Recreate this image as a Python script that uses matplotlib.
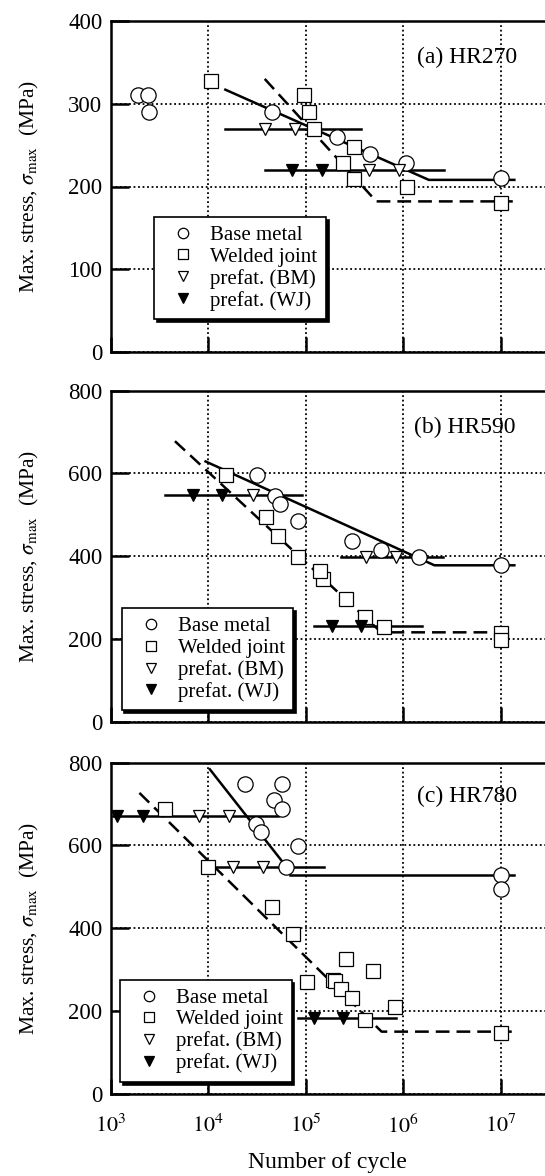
import numpy as np
import matplotlib.pyplot as plt
from matplotlib.lines import Line2D
from matplotlib.ticker import FixedLocator, NullLocator

plt.rcParams['font.family'] = ['Liberation Serif', 'DejaVu Serif']
plt.rcParams['mathtext.fontset'] = 'stix'

# ---- (a) HR270 ----
a_bm_n = [1.9e3, 2.4e3, 2.5e3, 4.5e4, 2.1e5, 4.6e5, 1.06e6, 1e7]
a_bm_s = [310, 310, 290, 290, 260, 239, 228, 210]
a_wj_n = [1.06e4, 9.5e4, 1.08e5, 1.23e5, 3.15e5, 2.4e5, 3.15e5, 1.1e6, 1e7]
a_wj_s = [328, 310, 290, 270, 248, 228, 209, 200, 180]
a_pbm_n = [3.8e4, 7.7e4, 4.5e5, 9.0e5]
a_pbm_s = [270, 270, 220, 220]
a_pwj_n = [7.3e4, 1.46e5]
a_pwj_s = [220, 220]
a_bm_fit_n = [1.5e4, 1.83e6, 1.38e7]
a_bm_fit_s = [317, 208, 208]
a_wj_fit_n = [3.8e4, 5.3e5, 1.33e7]
a_wj_fit_s = [330, 182, 182]
a_levels = [(1.5e4, 3.7e5, 270), (3.86e4, 2.6e6, 220)]

# ---- (b) HR590 ----
b_bm_n = [3.13e4, 4.8e4, 5.4e4, 8.4e4, 2.96e5, 5.9e5, 1.45e6, 1e7]
b_bm_s = [597, 545, 526, 486, 436, 416, 397, 378]
b_wj_n = [1.54e4, 3.95e4, 5.16e4, 8.4e4, 1.5e5, 1.39e5, 2.57e5, 4.05e5, 6.3e5, 1e7, 1e7]
b_wj_s = [597, 494, 449, 397, 346, 365, 296, 252, 230, 214, 197]
b_pbm_n = [2.85e4, 4.18e5, 8.5e5]
b_pbm_s = [547, 399, 399]
b_pwj_n = [7.0e3, 1.38e4, 1.88e5, 3.72e5]
b_pwj_s = [547, 547, 231, 231]
b_bm_fit_n = [9.4e3, 2.09e6, 1.38e7]
b_bm_fit_s = [629, 378, 378]
b_wj_fit_n = [4.56e3, 5.96e5, 1.33e7]
b_wj_fit_s = [678, 216, 216]
b_levels = [(3.57e3, 9.25e4, 547), (2.32e5, 2.55e6, 399), (1.21e5, 1.57e6, 231)]

# ---- (c) HR780 ----
c_bm_n = [2.41e4, 5.77e4, 4.74e4, 5.77e4, 3.08e4, 3.49e4, 8.28e4, 6.24e4, 1e7, 1e7]
c_bm_s = [748, 748, 710, 688, 651, 632, 598, 548, 528, 494]
c_wj_n = [3.63e3, 1e4, 4.49e4, 7.42e4, 1.02e5, 1.9e5, 2.0e5, 2.3e5, 2.96e5, 2.61e5,
          4.89e5, 8.15e5, 4.02e5, 1e7]
c_wj_s = [688, 548, 451, 386, 269, 276, 273, 253, 231, 326, 296, 210, 178, 147]
c_pbm_n = [8.1e3, 1.63e4, 1.8e4, 3.66e4]
c_pbm_s = [671, 671, 549, 549]
c_pwj_n = [1.17e3, 2.16e3, 1.21e5, 2.41e5]
c_pwj_s = [671, 671, 183, 183]
c_bm_fit_n = [1.04e4, 5.8e4]
c_bm_fit_s = [784, 560]
c_bm_flat_n = [6.9e4, 1.38e7]
c_bm_flat_s = [528, 528]
c_wj_fit_n = [1.97e3, 6.0e5, 1.3e7]
c_wj_fit_s = [727, 150, 150]
c_levels = [(1.06e3, 5.2e4, 671), (1.04e4, 1.53e5, 549), (8.35e4, 8.36e5, 183)]

labels = ['Base metal', 'Welded joint', 'prefat. (BM)', 'prefat. (WJ)']
titles = ['(a) HR270', '(b) HR590', '(c) HR780']
yticks = [[0, 100, 200, 300, 400], [0, 200, 400, 600, 800], [0, 200, 400, 600, 800]]
xticks = [1e3, 1e4, 1e5, 1e6, 1e7]
xticklabels = ['$10^3$', '$10^4$', '$10^5$', '$10^6$', '$10^7$']

fig = plt.figure(figsize=(5.45, 11.76), dpi=100)
W, H = 545, 1176
ax_left, ax_w = 110.7, 438.75
tops = [21, 390.7, 762.7]
ax_h = 331
leg_pos = [(0.099, 0.10), (0.025, 0.035), (0.021, 0.036)]
title_pos = [(0.698, 0.891), (0.692, 0.890), (0.698, 0.899)]

panels = [
    (a_bm_n, a_bm_s, a_wj_n, a_wj_s, a_pbm_n, a_pbm_s, a_pwj_n, a_pwj_s,
     [(a_bm_fit_n, a_bm_fit_s)], [(a_wj_fit_n, a_wj_fit_s)], a_levels),
    (b_bm_n, b_bm_s, b_wj_n, b_wj_s, b_pbm_n, b_pbm_s, b_pwj_n, b_pwj_s,
     [(b_bm_fit_n, b_bm_fit_s)], [(b_wj_fit_n, b_wj_fit_s)], b_levels),
    (c_bm_n, c_bm_s, c_wj_n, c_wj_s, c_pbm_n, c_pbm_s, c_pwj_n, c_pwj_s,
     [(c_bm_fit_n, c_bm_fit_s), (c_bm_flat_n, c_bm_flat_s)], [(c_wj_fit_n, c_wj_fit_s)], c_levels),
]

# legend handles (smaller markers than in the plot)
handles = [
    Line2D([], [], ls='none', marker='o', ms=7.5, mfc='white', mec='k', mew=0.9),
    Line2D([], [], ls='none', marker='s', ms=7, mfc='white', mec='k', mew=0.9),
    Line2D([], [], ls='none', marker='v', ms=7, mfc='white', mec='k', mew=0.9),
    Line2D([], [], ls='none', marker='v', ms=7, mfc='k', mec='k', mew=0.9),
]

for i, p in enumerate(panels):
    bm_n, bm_s, wj_n, wj_s, pbm_n, pbm_s, pwj_n, pwj_s, bm_fits, wj_fits, levels = p
    ax = fig.add_axes([ax_left / W, (H - tops[i] - ax_h) / H, ax_w / W, ax_h / H])
    ax.set_xscale('log')
    ax.set_xlim(1e3, 10 ** 7.5)
    ax.set_ylim(yticks[i][0], yticks[i][-1])

    for n, s in bm_fits:
        ax.plot(n, s, color='k', lw=1.8, zorder=3)
    for n, s in wj_fits:
        ax.plot(n, s, color='k', lw=1.8, ls=(0, (5.5, 2.8)), zorder=3)
    for n0, n1, s in levels:
        ax.plot([n0, n1], [s, s], color='k', lw=1.8, zorder=3)

    ax.plot(bm_n, bm_s, ls='none', marker='o', ms=11, mfc='white', mec='k', mew=0.9, zorder=4)
    ax.plot(wj_n, wj_s, ls='none', marker='s', ms=10.5, mfc='white', mec='k', mew=0.9, zorder=4)
    ax.plot(pbm_n, pbm_s, ls='none', marker='v', ms=8, mfc='white', mec='k', mew=0.9, zorder=5)
    ax.plot(pwj_n, pwj_s, ls='none', marker='v', ms=8, mfc='k', mec='k', mew=0.9, zorder=5)

    ax.xaxis.set_major_locator(FixedLocator(xticks))
    ax.xaxis.set_minor_locator(NullLocator())
    ax.yaxis.set_major_locator(FixedLocator(yticks[i]))
    if i == 2:
        ax.set_xticklabels(xticklabels)
    else:
        ax.set_xticklabels([])
    ax.tick_params(axis='x', direction='in', length=11, width=1.8, labelsize=16, pad=15,
                   top=False)
    ax.tick_params(axis='y', direction='in', length=13, width=1.8, labelsize=16.5, pad=6,
                   right=False)
    for sp in ax.spines.values():
        sp.set_linewidth(1.8)
    ax.grid(True, which='major', color='k', lw=1.3, ls=(0, (1, 1.5)))
    ax.set_axisbelow(True)

    ax.set_ylabel(r'Max. stress, $\sigma_{\rm max}$  (MPa)', fontsize=15.5)
    ax.yaxis.set_label_coords(-0.158, 0.5)

    ax.text(title_pos[i][0], title_pos[i][1], titles[i], transform=ax.transAxes,
            fontsize=17, va='center', ha='left', zorder=6)

    leg = ax.legend(handles, labels, loc='lower left',
                    bbox_to_anchor=leg_pos[i], fontsize=15,
                    frameon=True, fancybox=False, edgecolor='k', framealpha=1,
                    shadow={'color': 'k', 'alpha': 1},
                    handlelength=2.0, handletextpad=0.3, borderpad=0.4,
                    labelspacing=0.1, borderaxespad=0)
    leg.get_frame().set_linewidth(1.2)
    leg.set_zorder(10)

fig.text(327 / W, 3 / H, 'Number of cycle', fontsize=17, ha='center', va='bottom')

fig.savefig('out.png', dpi=100)
